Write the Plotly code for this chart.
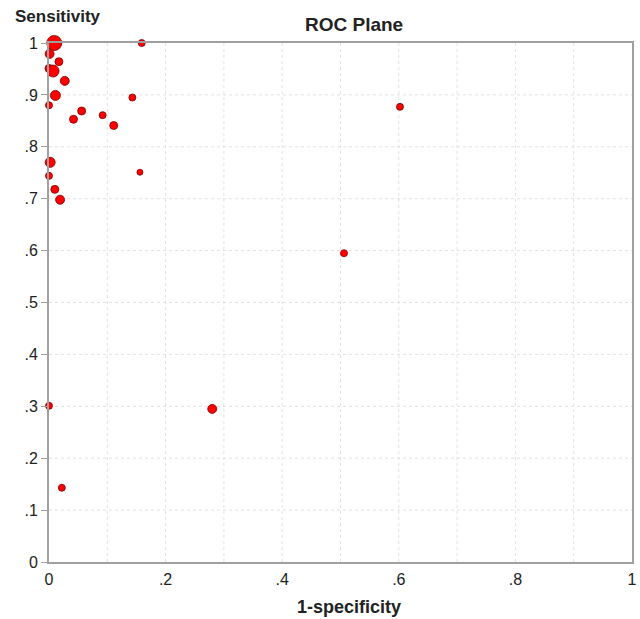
import plotly.graph_objects as go

# 1-specificity (x), sensitivity (y), marker size (relative study weight)
fpr = [0.009, 0.001, 0.017, 0.000, 0.007, 0.027, 0.011, 0.000, 0.042, 0.056,
       0.092, 0.111, 0.143, 0.159, 0.002, 0.000, 0.010, 0.019, 0.156,
       0.602, 0.506, 0.280, 0.000, 0.022]
tpr = [1.000, 0.979, 0.964, 0.951, 0.946, 0.927, 0.899, 0.880, 0.853, 0.869,
       0.861, 0.841, 0.895, 1.000, 0.770, 0.744, 0.718, 0.698, 0.751,
       0.877, 0.595, 0.295, 0.301, 0.143]
sizes = [15, 9, 8, 8, 12, 9, 10, 7, 8, 8,
         7, 8, 7, 7, 10, 7, 8, 9, 6,
         7, 7, 9, 7, 7]

x_tickvals = [0, 0.2, 0.4, 0.6, 0.8, 1]
x_ticktext = ["0", ".2", ".4", ".6", ".8", "1"]
y_tickvals = [0, 0.1, 0.2, 0.3, 0.4, 0.5, 0.6, 0.7, 0.8, 0.9, 1]
y_ticktext = ["0", ".1", ".2", ".3", ".4", ".5", ".6", ".7", ".8", ".9", "1"]
grid_vals = [0.1 * i for i in range(1, 10)]

fig = go.Figure()
fig.add_trace(go.Scatter(
    x=fpr, y=tpr, mode="markers",
    marker=dict(size=sizes, color="#ff0000", opacity=1,
                line=dict(color="#7a0000", width=0.8)),
    cliponaxis=False, showlegend=False, hoverinfo="x+y",
))

font = "Liberation Sans, Arial, sans-serif"
fig.update_layout(
    width=640, height=619,
    margin=dict(l=49, r=8, t=43, b=57, autoexpand=False),
    paper_bgcolor="white", plot_bgcolor="white",
    font=dict(family=font, size=16, color="#222"),
    showlegend=False,
)
fig.update_xaxes(
    range=[0, 1], tickvals=x_tickvals, ticktext=x_ticktext,
    showgrid=False, zeroline=False, automargin=False,
    showline=True, linecolor="#a0a0a0", linewidth=2, mirror=True,
    ticks="", ticklabelstandoff=2,
)
fig.update_yaxes(
    range=[0, 1], tickvals=y_tickvals, ticktext=y_ticktext,
    showgrid=False, zeroline=False, automargin=False,
    showline=True, linecolor="#a0a0a0", linewidth=2, mirror=True,
    ticks="outside", ticklen=6, tickcolor="#a0a0a0", tickwidth=1,
)

# dotted grid at every 0.1
for v in grid_vals:
    fig.add_shape(type="line", xref="x", yref="paper", x0=v, x1=v, y0=0, y1=1,
                  line=dict(color="#e2e2e2", width=1, dash="dot"), layer="below")
    fig.add_shape(type="line", xref="paper", yref="y", x0=0, x1=1, y0=v, y1=v,
                  line=dict(color="#e2e2e2", width=1, dash="dot"), layer="below")

fig.add_annotation(text="<b>ROC Plane</b>", xref="paper", yref="paper",
                   x=(354 - 49) / 583, y=(562 - 25) / 519, showarrow=False,
                   xanchor="center", yanchor="middle",
                   font=dict(size=19, family=font, color="#222"))
fig.add_annotation(text="<b>Sensitivity</b>", xref="paper", yref="paper",
                   x=(13 - 49) / 583, y=(562 - 17) / 519, showarrow=False,
                   xanchor="left", yanchor="middle",
                   font=dict(size=17, family=font, color="#222"))
fig.add_annotation(text="<b>1-specificity</b>", xref="paper", yref="paper",
                   x=(349 - 49) / 583, y=(562 - 607) / 519, showarrow=False,
                   xanchor="center", yanchor="middle",
                   font=dict(size=18, family=font, color="#222"))

fig.write_html("out.html", post_script="document.body.style.margin='0';",
               config={"displayModeBar": False})
